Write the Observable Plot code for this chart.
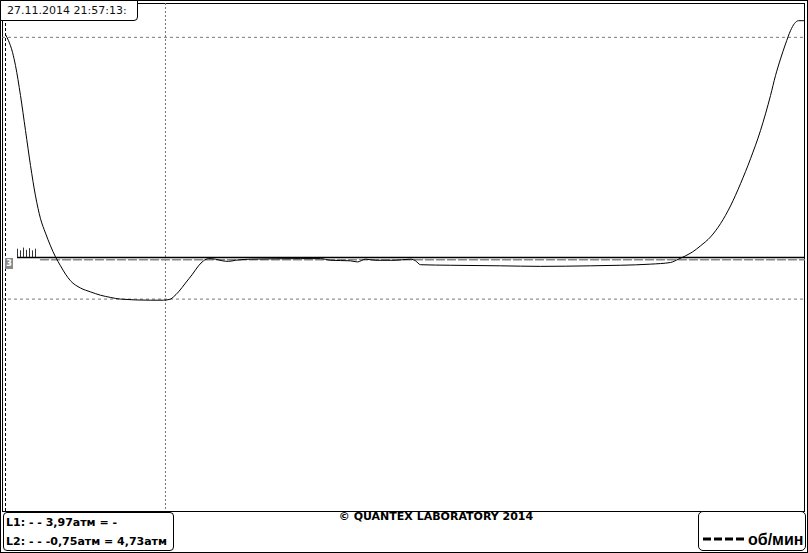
<!DOCTYPE html>
<html><head><meta charset="utf-8">
<script src="https://cdn.jsdelivr.net/npm/d3@7"></script>
<script src="https://cdn.jsdelivr.net/npm/@observablehq/plot@0.6"></script>
<style>
html,body{margin:0;padding:0;background:#fff;}
#wrap{position:relative;width:808px;height:553px;overflow:hidden;font-family:"DejaVu Sans",Verdana,sans-serif;}
#outer{position:absolute;left:0;top:0;width:806px;height:551px;border:1px solid #000;}
#chart{position:absolute;left:0;top:0;}
.box{position:absolute;background:#fff;border:1px solid #000;box-sizing:border-box;}
#stamp{left:0;top:0;width:138px;height:21px;border-bottom-right-radius:4px;font-size:11px;line-height:20px;padding-left:6px;color:#111;white-space:nowrap;}
#cursors{left:3px;top:512px;width:171px;height:39px;border-radius:4px;font-size:11px;font-weight:bold;padding-left:2px;line-height:19px;white-space:nowrap;}
#copy{position:absolute;left:300px;width:272px;top:510px;text-align:center;font-size:11px;font-weight:bold;white-space:nowrap;}
#legend{left:698px;top:511px;width:108px;height:40px;border-radius:5px;}
#legend svg{position:absolute;left:4px;top:24px;}
#legend .lbl{position:absolute;left:49px;top:19px;font-family:"Liberation Sans",Arial,sans-serif;font-size:16px;font-weight:bold;white-space:nowrap;}
#mark3{position:absolute;left:5px;top:258px;width:8px;height:11px;background:#8a8a8a;color:#fff;font-size:8px;font-weight:bold;text-align:center;line-height:11px;}
</style></head>
<body>
<div id="wrap">
  <div id="outer"></div>
  <div id="chart"></div>
  <div class="box" id="stamp"></div>
  <div id="mark3">3</div>
  <div class="box" id="cursors"></div>
  <div id="copy"></div>
  <div class="box" id="legend"><svg width="42" height="6"><line x1="0" y1="3" x2="41" y2="3" stroke="#000" stroke-width="3" stroke-dasharray="8,3"/></svg><div class="lbl"></div></div>
</div>
<script>
// ---- data (time in samples, pressure in атм) ----
const pressureT = [3,6,10,13,18,23,28,33,38,43,48,53,58,63,68,78,88,98,108,118,148,161,168,171,176,183,190,196,201,206,213,220,226,233,248,298,318,328,348,355,363,373,393,408,413,418,448,498,538,588,618,648,668,676,683,690,698,708,718,728,738,748,758,768,773,778,783,788,792,796,801];
const pressureV = [4.02,3.91,3.70,3.46,2.92,2.29,1.66,1.11,0.70,0.44,0.21,0.01,-0.15,-0.30,-0.42,-0.55,-0.62,-0.68,-0.72,-0.75,-0.77,-0.77,-0.75,-0.71,-0.62,-0.46,-0.3,-0.15,-0.06,-0.02,-0.03,-0.06,-0.07,-0.05,-0.03,-0.02,-0.02,-0.05,-0.06,-0.08,-0.03,-0.05,-0.05,-0.03,-0.06,-0.13,-0.14,-0.15,-0.16,-0.15,-0.14,-0.12,-0.09,-0.03,0.03,0.1,0.21,0.37,0.61,0.93,1.33,1.78,2.29,2.92,3.28,3.58,3.85,4.09,4.22,4.27,4.27];
const rpmT = [38, 802];
const rpmV = [-0.04, -0.04];
const pulseT = [15,18,21,24,27,30,33];
const pulseV = [0.15,0.12,0.17,0.13,0.16,0.12,0.15];
const cursorLevels = [3.97, -0.75];
const cursorTimes = [163];
const startCursor = [3];
const zeroLevel = [0];
const stampText = "27.11.2014 21:57:13:";
const cursorLines = ["L1: - - 3,97атм = -", "L2: - - -0,75атм = 4,73атм"];
const copyText = "© QUANTEX LABORATORY 2014";
const legendLabel = "об/мин";

const pressure = pressureT.map((t,i)=>({t, v: pressureV[i]}));
const rpm = rpmT.map((t,i)=>({t, v: rpmV[i]}));
const pulses = pulseT.map((t,i)=>({t, v: pulseV[i]}));

const chart = Plot.plot({
  width: 808, height: 553,
  marginLeft: 2, marginRight: 4, marginTop: 3, marginBottom: 42,
  x: {domain: [0, 802], axis: null},
  y: {domain: [-4.58, 4.58], axis: null},
  style: {background: "transparent"},
  marks: [
    Plot.frame({stroke: "#000"}),
    Plot.ruleY(cursorLevels, {stroke: "#777", strokeDasharray: "3,3"}),
    Plot.ruleX(cursorTimes, {stroke: "#777", strokeDasharray: "2,2"}),
    Plot.ruleX(startCursor, {stroke: "#000", strokeDasharray: "3,2"}),
    Plot.ruleY(zeroLevel, {x1: 15, x2: 802, stroke: "#000", strokeWidth: 1.5}),
    Plot.line(rpm, {x: "t", y: "v", stroke: "#888", strokeWidth: 1.5, strokeDasharray: "8,3"}),
    Plot.ruleX(pulses, {x: "t", y1: 0, y2: "v", stroke: "#333"}),
    Plot.line(pressure, {x: "t", y: "v", stroke: "#000", strokeWidth: 1, curve: "monotone-x"})
  ]
});
document.getElementById("chart").appendChild(chart);
document.getElementById("stamp").textContent = stampText;
document.getElementById("cursors").innerHTML = cursorLines.map(s=>`<div>${s}</div>`).join("");
document.getElementById("copy").textContent = copyText;
document.querySelector("#legend .lbl").textContent = legendLabel;
</script>
</body></html>
